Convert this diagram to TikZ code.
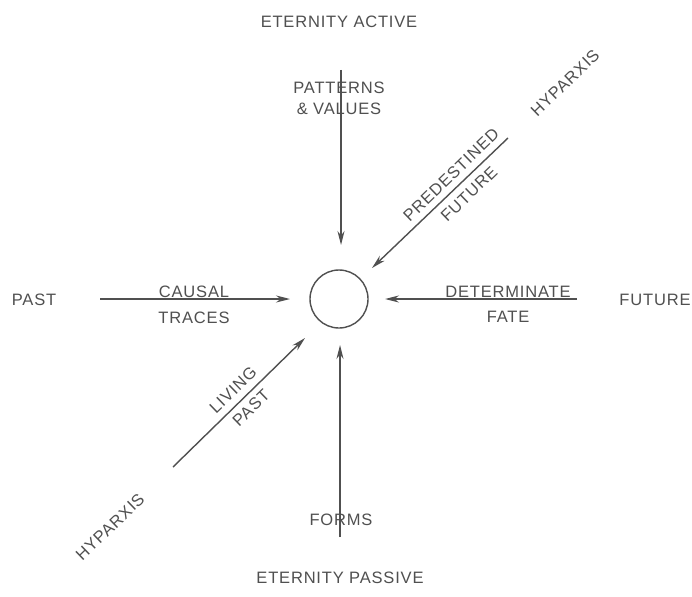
\documentclass[tikz,border=0pt]{standalone}
\usepackage{fontspec}
\setmainfont{Liberation Sans}[LetterSpace=5]
\usetikzlibrary{arrows.meta}
\definecolor{ink}{HTML}{505050}
\begin{document}
\begin{tikzpicture}[x=1pt,y=-1pt,
  lbl/.style={text=ink,font=\fontsize{16.5}{21}\selectfont,inner sep=0pt,align=center},
  rlbl/.style={lbl,rotate=44},
  arr/.style={draw=ink,line width=1.4pt,-{Stealth[length=14pt,width=7pt]}}]
\useasboundingbox[fill=white] (0,0) rectangle (692,596);
\node[draw=ink,line width=1.4pt,circle,minimum size=58pt,inner sep=0pt] (c) at (339,299) {};
% coordinates
\coordinate (ts) at (341,70);   \coordinate (te) at (341,245);
\coordinate (bs) at (340,537);  \coordinate (be) at (340,345);
\coordinate (ls) at (100,299);  \coordinate (le) at (290,299);
\coordinate (rs) at (577,299);  \coordinate (re) at (385,299);
\coordinate (us) at (508,138);  \coordinate (ue) at (372,268);
\coordinate (ds) at (173,467);  \coordinate (de) at (305,338);
% labels
\node[lbl] (ea) at (339,22) {ETERNITY ACTIVE};
\node[lbl] (ep) at (340,578) {ETERNITY PASSIVE};
\node[lbl] (past) at (34,300) {PAST};
\node[lbl] (fut) at (655,300) {FUTURE};
\node[lbl] (pv) at (339,98) {PATTERNS\\\& VALUES};
\node[lbl] (ct) at (194,305) {CAUSAL\\[5pt]TRACES};
\node[lbl] (df) at (508,304) {DETERMINATE\\[4pt]FATE};
\node[lbl] (forms) at (341,520) {FORMS};
\node[rlbl] (pd) at (451,175) {PREDESTINED};
\node[rlbl] (pf) at (469,194) {FUTURE};
\node[rlbl] (hu) at (565,83) {HYPARXIS};
\node[rlbl] (lv) at (233,390) {LIVING};
\node[rlbl] (lp) at (251,408) {PAST};
\node[rlbl] (hl) at (110,527) {HYPARXIS};
% arrows
\draw[arr] (ts) -- (te);
\draw[arr] (bs) -- (be);
\draw[arr] (ls) -- (le);
\draw[arr] (rs) -- (re);
\draw[arr] (us) -- (ue);
\draw[arr] (ds) -- (de);
\end{tikzpicture}
\end{document}
